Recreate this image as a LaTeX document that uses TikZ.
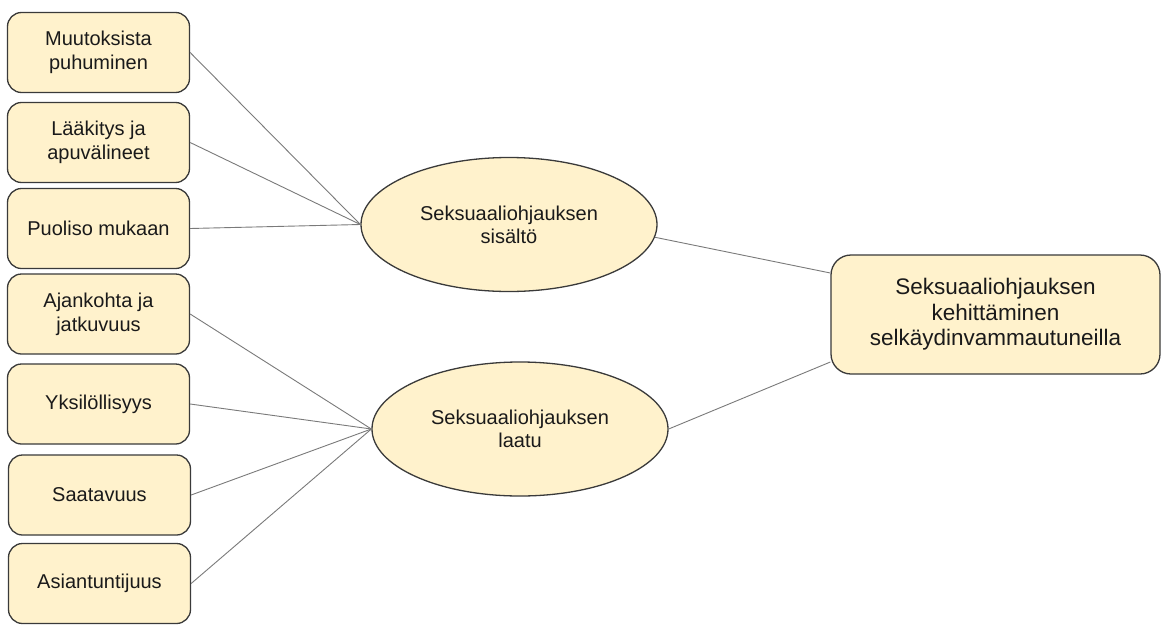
\documentclass[tikz,border=0pt]{standalone}
\usepackage{fontspec}
\setmainfont{Liberation Sans}
\usetikzlibrary{shapes.geometric}
\definecolor{boxfill}{HTML}{FFF2CC}
\definecolor{boxline}{HTML}{3A3A3A}
\definecolor{connc}{HTML}{7A7A7A}
\definecolor{txt}{HTML}{1A1A1A}
\begin{document}
\begin{tikzpicture}[x=1pt,y=-1pt,
  leaf/.style={draw=boxline, line width=1.3pt, fill=boxfill, rounded corners=14pt,
    minimum width=182pt, minimum height=80pt, inner sep=0pt, align=center,
    text=txt, font=\fontsize{20}{24}\selectfont},
  hub/.style={ellipse, draw=boxline, line width=1.3pt, fill=boxfill,
    minimum width=296pt, minimum height=134pt, inner sep=0pt, align=center,
    text=txt, font=\fontsize{20}{23}\selectfont},
  goal/.style={draw=boxline, line width=1.3pt, fill=boxfill, rounded corners=20pt,
    minimum width=329pt, minimum height=119pt, inner sep=0pt, align=center,
    text=txt, font=\fontsize{22.5}{25.5}\selectfont},
  link/.style={draw=connc, line width=0.9pt}]
\fill[white] (0,0) rectangle (1162,624);
\useasboundingbox (0,0) rectangle (1162,624);

\node[leaf] (l1) at (98.5,52.5) {Muutoksista\\puhuminen};
\node[leaf] (l2) at (98.5,142.5) {Lääkitys ja\\apuvälineet};
\node[leaf] (l3) at (98.5,228.5) {Puoliso mukaan};
\node[leaf] (l4) at (98.5,314) {Ajankohta ja\\jatkuvuus};
\node[leaf] (l5) at (98.5,404) {Yksilöllisyys};
\node[leaf] (l6) at (99.5,495) {Saatavuus};
\node[leaf] (l7) at (99.5,583.5) {Asiantuntijuus};

\node[hub] (e1) at (509,224.5) {Seksuaaliohjauksen\\sisältö};
\node[hub] (e2) at (520,429) {Seksuaaliohjauksen\\laatu};

\node[goal] (r) at (995.5,314.5) {Seksuaaliohjauksen\\kehittäminen\\selkäydinvammautuneilla};

\foreach \i in {1,2,3} \draw[link] (l\i.east) -- (e1.west);
\foreach \i in {4,5,6,7} \draw[link] (l\i.east) -- (e2.west);
\draw[link] (e1.-5) -- ([yshift=41.5pt]r.west);
\draw[link] (e2.east) -- ([yshift=-47.5pt]r.west);
\end{tikzpicture}
\end{document}
